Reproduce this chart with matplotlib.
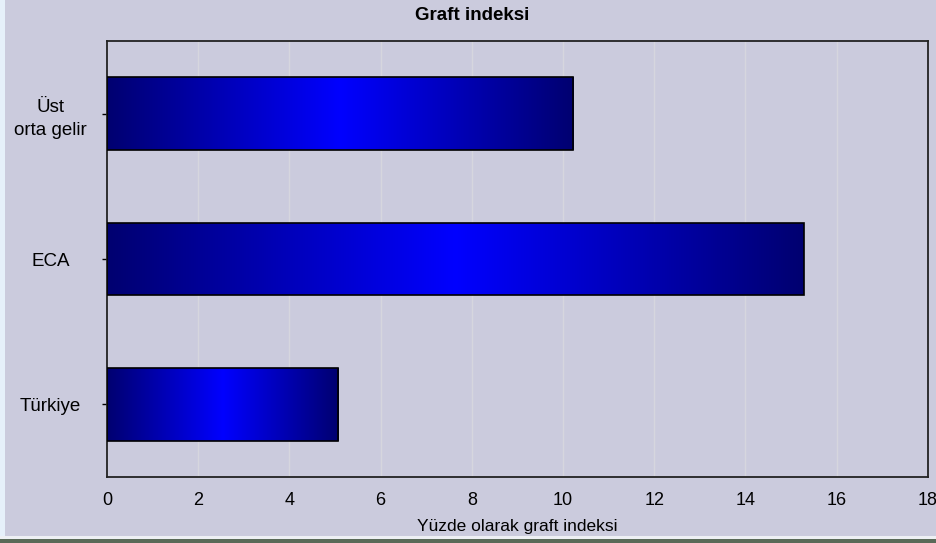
import numpy as np
import matplotlib.pyplot as plt
from matplotlib.colors import LinearSegmentedColormap
from matplotlib.patches import Rectangle

categories = ['Türkiye', 'ECA', 'Üst\norta gelir']
values = [5.07, 15.28, 10.22]
xticks = [0, 2, 4, 6, 8, 10, 12, 14, 16, 18]

plt.rcParams['font.family'] = ['Liberation Sans Narrow', 'Liberation Sans', 'DejaVu Sans']

bg = '#cbcbdd'
fig = plt.figure(figsize=(9.36, 5.43), dpi=100, facecolor=bg)
ax = fig.add_axes([0.1143, 0.1215, 0.877, 0.803])
ax.set_facecolor(bg)

# kenardaki ince şeritler
fig.patches.append(Rectangle((0, 0), 0.005, 1, transform=fig.transFigure,
                             facecolor='#e6f0fa', edgecolor='none'))
fig.patches.append(Rectangle((0, 0), 1, 0.008, transform=fig.transFigure,
                             facecolor='#5a6a58', edgecolor='none'))
fig.patches.append(Rectangle((0, 0.008), 1, 0.004, transform=fig.transFigure,
                             facecolor='#eef0f4', edgecolor='none'))

y = np.arange(len(categories))
bars = ax.barh(y, values, height=0.5, facecolor='none', edgecolor='black',
               linewidth=1.2, zorder=3)

cmap = LinearSegmentedColormap.from_list('blu', ['#000070', '#0000ff', '#000070'])
grad = np.linspace(0, 1, 256).reshape(1, -1)
for b in bars:
    x0, y0 = b.get_x(), b.get_y()
    im = ax.imshow(grad, cmap=cmap, aspect='auto', zorder=2,
                   extent=[x0, x0 + b.get_width(), y0, y0 + b.get_height()])
    im.set_clip_path(b)

ax.set_xlim(0, 18)
ax.set_ylim(-0.5, 2.5)
ax.set_xticks(xticks)
ax.set_xticklabels([str(t) for t in xticks], fontsize=13)
ax.set_yticks(y)
ax.set_yticklabels(categories, fontsize=13.5, multialignment='center', ha='center',
                   linespacing=1.5)
ax.tick_params(axis='x', length=0, pad=11)
ax.tick_params(axis='y', length=3.6, width=1, pad=37)
ax.xaxis.grid(True, color='#d6d6de', linewidth=1, zorder=0)
ax.set_axisbelow(True)
for s in ax.spines.values():
    s.set_linewidth(1.3)
    s.set_color('#222222')

ax.set_xlabel('Yüzde olarak graft indeksi', fontsize=12.5, labelpad=7)
fig.text(0.504, 0.972, 'Graft indeksi', ha='center', va='center',
         fontsize=13.5, fontweight='bold')

fig.savefig('out.png', dpi=100, facecolor=bg)
